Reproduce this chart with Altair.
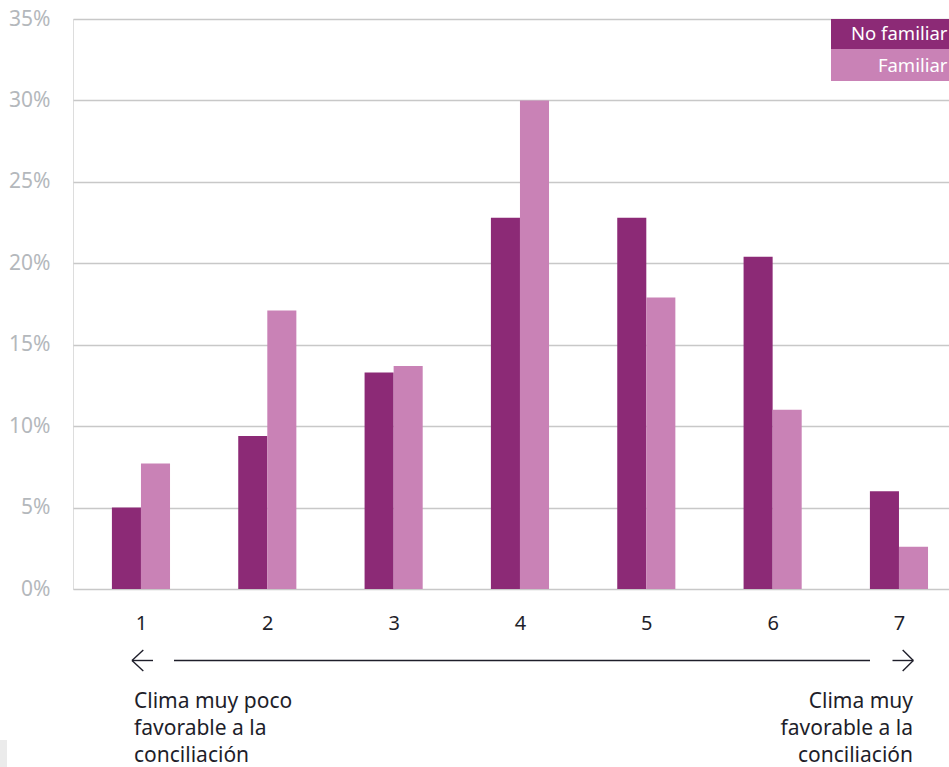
import altair as alt
import pandas as pd

# Survey results: share of respondents per score (1-7) by group
categories = [1, 2, 3, 4, 5, 6, 7]
series_names = ["No familiar", "Familiar"]
no_familiar = [5.0, 9.4, 13.3, 22.8, 22.8, 20.4, 6.0]
familiar = [7.7, 17.1, 13.7, 30.0, 17.9, 11.0, 2.6]
y_ticks = [0, 5, 10, 15, 20, 25, 30, 35]
left_note = ["Clima muy poco", "favorable a la", "conciliación"]
right_note = ["Clima muy", "favorable a la", "conciliación"]

colors = ["#8c2a76", "#c982b6"]
FONT = "Noto Sans"
INK = "#1e1e2a"

rows = []
for slot, (name, vals) in enumerate(zip(series_names, [no_familiar, familiar])):
    for cat, v in zip(categories, vals):
        rows.append({"cat": cat, "serie": name, "pct": v, "slot": slot})
df = pd.DataFrame(rows)

BAR = 0.23  # bar width in category units
x_scale = alt.Scale(domain=[0.462, 7.396], nice=False, zero=False)
y_scale = alt.Scale(domain=[0, 35], nice=False)

bars = alt.Chart(df).transform_calculate(
    x0=f"datum.cat + (datum.slot - 1) * {BAR}",
    x1=f"datum.cat + datum.slot * {BAR}",
).mark_rect().encode(
    x=alt.X("x0:Q", scale=x_scale,
            axis=alt.Axis(values=categories, title=None, grid=False, domain=False,
                          ticks=False, labelFontSize=20, labelColor=INK,
                          labelPadding=24, format="d", labelFlush=False,
                          labelOverlap=False, labelFont=FONT)),
    x2="x1:Q",
    y=alt.Y("pct:Q", scale=y_scale,
            axis=alt.Axis(values=y_ticks, labelExpr="datum.value + '%'", title=None,
                          grid=True, gridColor="#c8c8c8", gridWidth=1.3,
                          domain=False, ticks=False, labelFontSize=21,
                          labelColor="#b4b8bc", labelPadding=23, labelFont=FONT)),
    y2=alt.datum(0),
    color=alt.Color("serie:N", scale=alt.Scale(domain=series_names, range=colors),
                    legend=None),
)

one = pd.DataFrame({"k": [0]})


def box(x, x2, y, y2, color):
    return alt.Chart(one).mark_rect(color=color).encode(
        x=alt.value(x), x2=alt.value(x2), y=alt.value(y), y2=alt.value(y2))


def seg(x, x2, y, y2):
    return alt.Chart(one).mark_rule(color=INK, strokeWidth=1.4).encode(
        x=alt.value(x), x2=alt.value(x2), y=alt.value(y), y2=alt.value(y2))


# Boxed legend in the top-right corner
legend_layers = [
    box(758, 876, 0, 30, colors[0]),
    box(758, 876, 30, 62, colors[1]),
    alt.Chart(one).mark_text(align="right", baseline="middle", fontSize=18.5,
                             color="white", font=FONT).encode(
        x=alt.value(874.5), y=alt.value(15), text=alt.value(series_names[0])),
    alt.Chart(one).mark_text(align="right", baseline="middle", fontSize=18.5,
                             color="white", font=FONT).encode(
        x=alt.value(874.5), y=alt.value(47), text=alt.value(series_names[1])),
]

# Double-headed scale arrow under the axis
arrow_layers = [
    seg(101, 797, 641.5, 641.5),
    seg(59, 80, 641.5, 641.5),
    seg(59, 70.3, 641.5, 631),
    seg(59, 70.3, 641.5, 652),
    seg(819.5, 840.3, 641.5, 641.5),
    seg(840.3, 829.7, 641.5, 631),
    seg(840.3, 829.7, 641.5, 652),
]

notes = [
    alt.Chart(one).mark_text(align="left", baseline="alphabetic", fontSize=21,
                             lineHeight=27, color=INK, font=FONT).encode(
        x=alt.value(61), y=alt.value(689), text=alt.value(left_note)),
    alt.Chart(one).mark_text(align="right", baseline="alphabetic", fontSize=21,
                             lineHeight=27, color=INK, font=FONT).encode(
        x=alt.value(840), y=alt.value(689), text=alt.value(right_note)),
    box(-73, -66, 721, 748, "#ebebeb"),
]

chart = alt.layer(bars, *legend_layers, *arrow_layers, *notes).properties(
    width=876,
    height=570,
    autosize=alt.AutoSizeParams(type="none"),
    padding={"left": 73, "top": 19, "right": 0, "bottom": 178},
).configure_view(stroke=None).configure(font=FONT)

chart.save("out.html", embed_options={"renderer": "svg", "actions": False})
